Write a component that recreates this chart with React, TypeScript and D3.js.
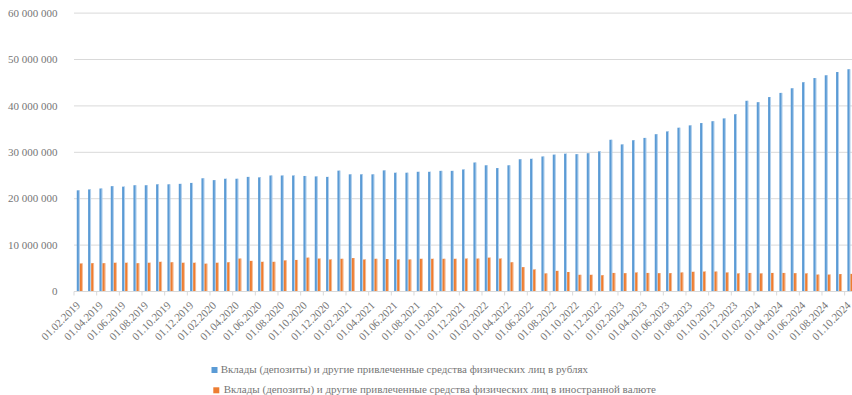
import React from "react";
import * as d3 from "d3";

const categories: string[] = [
  "01.02.2019","01.03.2019","01.04.2019","01.05.2019","01.06.2019","01.07.2019","01.08.2019","01.09.2019","01.10.2019","01.11.2019","01.12.2019",
  "01.01.2020","01.02.2020","01.03.2020","01.04.2020","01.05.2020","01.06.2020","01.07.2020","01.08.2020","01.09.2020","01.10.2020","01.11.2020","01.12.2020",
  "01.01.2021","01.02.2021","01.03.2021","01.04.2021","01.05.2021","01.06.2021","01.07.2021","01.08.2021","01.09.2021","01.10.2021","01.11.2021","01.12.2021",
  "01.01.2022","01.02.2022","01.03.2022","01.04.2022","01.05.2022","01.06.2022","01.07.2022","01.08.2022","01.09.2022","01.10.2022","01.11.2022","01.12.2022",
  "01.01.2023","01.02.2023","01.03.2023","01.04.2023","01.05.2023","01.06.2023","01.07.2023","01.08.2023","01.09.2023","01.10.2023","01.11.2023","01.12.2023",
  "01.01.2024","01.02.2024","01.03.2024","01.04.2024","01.05.2024","01.06.2024","01.07.2024","01.08.2024","01.09.2024","01.10.2024",
];

// thousands of roubles
const rubDeposits: number[] = [
  21.8e6, 22.0e6, 22.2e6, 22.7e6, 22.6e6, 22.9e6, 22.9e6, 23.1e6, 23.1e6, 23.2e6, 23.4e6,
  24.4e6, 24.0e6, 24.3e6, 24.3e6, 24.7e6, 24.6e6, 25.0e6, 25.0e6, 25.0e6, 24.9e6, 24.8e6, 24.7e6,
  26.05e6, 25.25e6, 25.25e6, 25.25e6, 26.1e6, 25.6e6, 25.6e6, 25.8e6, 25.8e6, 26.0e6, 26.0e6, 26.3e6,
  27.8e6, 27.2e6, 26.6e6, 27.2e6, 28.5e6, 28.6e6, 29.1e6, 29.5e6, 29.7e6, 29.6e6, 29.8e6, 30.2e6,
  32.7e6, 31.7e6, 32.6e6, 33.1e6, 33.9e6, 34.5e6, 35.3e6, 35.8e6, 36.3e6, 36.7e6, 37.3e6, 38.2e6,
  41.1e6, 40.8e6, 41.9e6, 42.8e6, 43.8e6, 45.1e6, 46.0e6, 46.6e6, 47.3e6, 47.9e6,
];

const fxDeposits: number[] = [
  6.04e6, 6.1e6, 6.1e6, 6.2e6, 6.2e6, 6.1e6, 6.2e6, 6.4e6, 6.3e6, 6.2e6, 6.2e6,
  6.0e6, 6.2e6, 6.3e6, 7.1e6, 6.6e6, 6.4e6, 6.4e6, 6.7e6, 6.8e6, 7.3e6, 7.1e6, 6.9e6,
  7.05e6, 7.2e6, 6.9e6, 7.05e6, 7.0e6, 6.9e6, 6.9e6, 7.05e6, 7.05e6, 7.05e6, 7.05e6, 7.1e6,
  7.1e6, 7.3e6, 7.1e6, 6.3e6, 5.25e6, 4.75e6, 3.9e6, 4.45e6, 4.2e6, 3.6e6, 3.6e6, 3.5e6,
  4.0e6, 3.95e6, 4.1e6, 4.0e6, 3.95e6, 3.95e6, 4.1e6, 4.25e6, 4.3e6, 4.3e6, 4.1e6, 3.9e6,
  4.0e6, 3.9e6, 4.0e6, 4.0e6, 3.95e6, 3.9e6, 3.65e6, 3.65e6, 3.75e6, 3.8e6,
];

const yTicks: number[] = [0, 10e6, 20e6, 30e6, 40e6, 50e6, 60e6];

const seriesNames: string[] = [
  "Вклады (депозиты) и другие привлеченные средства физических лиц в рублях",
  "Вклады (депозиты) и другие привлеченные средства физических лиц в иностранной валюте",
];
const seriesColors: string[] = ["#5B9BD5", "#ED7D31"];
const seriesEdge: string[] = ["#bcd6ef", "#f6c4a3"];

const W = 852;
const H = 395;
const plotLeft = 74;
const catWidth = 11.333;
const plotRight = plotLeft + categories.length * catWidth;
const plotTop = 13.1;
const plotBottom = 291.5;
const FONT = "'Liberation Serif', 'Times New Roman', serif";
const TEXT = "#767676";

export default function App() {
  const x = d3.scaleBand<string>().domain(categories).range([plotLeft, plotRight]).paddingInner(0).paddingOuter(0);
  const bw = x.bandwidth();
  const sub = d3.scaleBand<number>().domain([0, 1]).range([bw / 2 - 2.9, bw / 2 + 2.9]).paddingInner(0.1);
  const y = d3.scaleLinear().domain([0, 60e6]).range([plotBottom, plotTop]);
  const fmt = (v: number) => d3.format(",")(v).replace(/,/g, " ");
  const series = [rubDeposits, fxDeposits];
  const labelCats = categories.filter((_, i) => i % 2 === 0);

  return (
    <svg width={W} height={H} style={{ position: "absolute", left: 0, top: 0, background: "#fff" }} fontFamily={FONT}>
      {yTicks.map((t) => (
        <g key={t}>
          {t > 0 && <line x1={plotLeft} x2={plotRight} y1={y(t)} y2={y(t)} stroke="#d9d9d9" strokeWidth={1} />}
          <text x={57.5} y={y(t)} dy="0.33em" textAnchor="end" fontSize={11} fill={TEXT}>{fmt(t)}</text>
        </g>
      ))}
      {series.map((vals, s) => (
        <g key={s}>
          {vals.map((v, i) => {
            const x0 = (x(categories[i]) as number) + (sub(s) as number);
            const w = sub.bandwidth();
            return (
              <g key={i}>
                <rect x={x0} y={y(v)} width={w} height={plotBottom - y(v)} fill={seriesColors[s]} />
                <rect x={x0 + w - 0.7} y={y(v)} width={0.9} height={plotBottom - y(v)} fill={seriesEdge[s]} />
              </g>
            );
          })}
        </g>
      ))}
      <line x1={plotLeft} x2={plotRight} y1={plotBottom} y2={plotBottom} stroke="#d9d9d9" strokeWidth={1} />
      {labelCats.map((c) => {
        const xb = x(c) as number;
        return <line key={"t" + c} x1={xb} x2={xb} y1={plotBottom} y2={plotBottom + 4} stroke="#d9d9d9" strokeWidth={1} />;
      })}
      {labelCats.map((c) => {
        const cx = (x(c) as number) + bw / 2 + 1.2;
        const cy = 306;
        return (
          <text key={"l" + c} x={cx} y={cy} transform={`rotate(-45 ${cx} ${cy})`} textAnchor="end" fontSize={11} fill={TEXT}>
            {c}
          </text>
        );
      })}
      <g>
        <rect x={211.5} y={367} width={6} height={6} fill={seriesColors[0]} />
        <text x={220.7} y={372.5} fontSize={11} fill={TEXT}>{seriesNames[0]}</text>
        <rect x={213.3} y={387.3} width={6} height={6} fill={seriesColors[1]} />
        <text x={223.7} y={392.7} fontSize={11} fill={TEXT}>{seriesNames[1]}</text>
      </g>
    </svg>
  );
}
